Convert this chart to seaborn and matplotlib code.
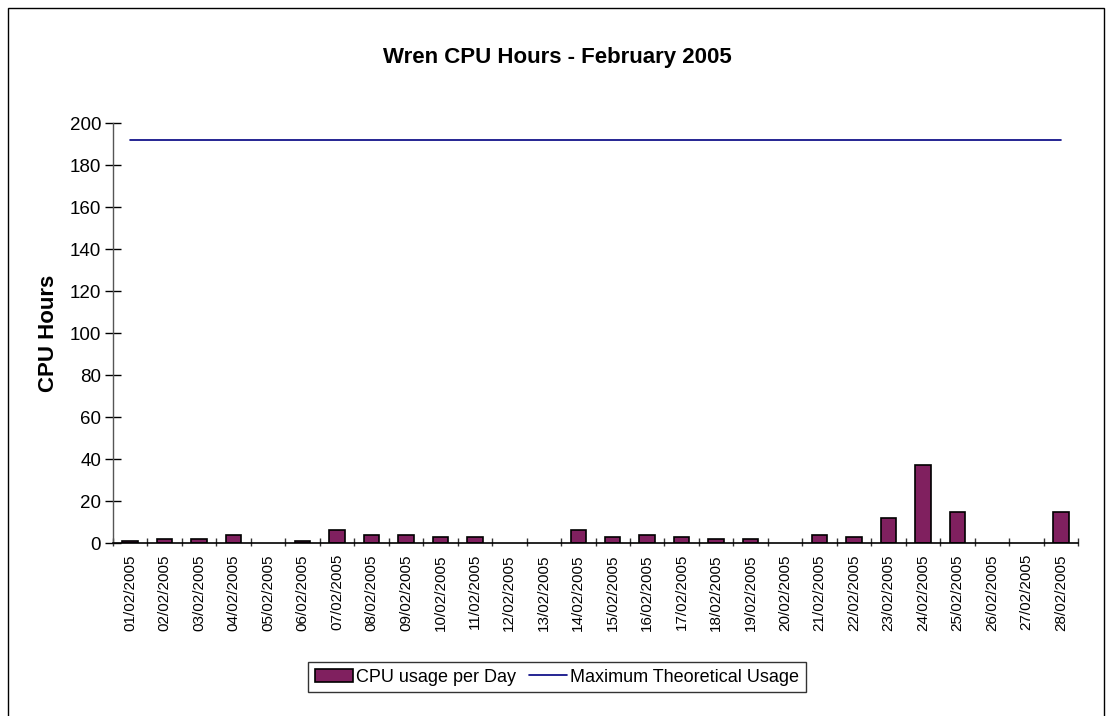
import matplotlib
matplotlib.use("Agg")
import matplotlib.pyplot as plt
import seaborn as sns
import pandas as pd
from matplotlib.patches import Rectangle

dates = [f"{d:02d}/02/2005" for d in range(1, 29)]
cpu_usage = [1, 2, 2, 4, 0, 1, 6, 4, 4, 3, 3, 0, 0, 6,
             3, 4, 3, 2, 2, 0, 4, 3, 12, 37, 15, 0, 0, 15]
max_usage = [192] * 28
y_ticks = list(range(0, 201, 20))

sns.set_theme(style="white")
plt.rcParams['font.family'] = ['Liberation Sans', 'DejaVu Sans']
plt.rcParams['text.color'] = 'black'
plt.rcParams['xtick.color'] = 'black'
plt.rcParams['ytick.color'] = 'black'
plt.rcParams['axes.labelcolor'] = 'black'

df = pd.DataFrame({"date": dates, "cpu": cpu_usage, "max": max_usage})

fig = plt.figure(figsize=(11.14, 7.16), dpi=100)
ax = fig.add_axes([113/1114, 1 - 543/716, (1078-113)/1114, (543-123)/716])

sns.barplot(data=df, x="date", y="cpu", color="#80205F", edgecolor="black",
            linewidth=1.2, width=0.45, saturation=1, ax=ax,
            label="CPU usage per Day")
# zero-height bars are not drawn in the reference
for p in ax.patches:
    if p.get_height() == 0:
        p.set_visible(False)
sns.lineplot(data=df, x="date", y="max", color="#000080", linewidth=1.2,
             ax=ax, label="Maximum Theoretical Usage")

ax.set_xlim(-0.5, len(dates) - 0.5)
ax.set_ylim(0, 200)
ax.set_yticks(y_ticks)
ax.set_yticklabels([str(t) for t in y_ticks], fontsize=13.5)
ax.set_xticks(range(len(dates)))
ax.set_xticklabels(dates, rotation=90, fontsize=11)
ax.tick_params(axis="x", bottom=False, length=0, pad=8)
for i in range(len(dates) + 1):
    ax.plot([i - 0.5, i - 0.5], [-1.6, 2.4], color="#333333", lw=1,
            clip_on=False, solid_capstyle="butt")
ax.tick_params(axis="y", left=True, direction="inout", length=11, width=1,
               color="black", pad=3)

for s in ["top", "right"]:
    ax.spines[s].set_visible(False)
ax.spines["left"].set_color("#555555")
ax.spines["bottom"].set_color("black")
ax.spines["left"].set_linewidth(1)
ax.spines["bottom"].set_linewidth(1.2)

ax.set_xlabel("")
ax.set_ylabel("CPU Hours", fontsize=16, fontweight="bold", labelpad=8)
fig.text(0.5, 1 - 57/716, "Wren CPU Hours - February 2005", ha="center",
         va="center", fontsize=16, fontweight="bold")

if ax.get_legend():
    ax.get_legend().remove()
handles, labels = ax.get_legend_handles_labels()
order = [labels.index("CPU usage per Day"), labels.index("Maximum Theoretical Usage")]
handles = [handles[i] for i in order]
labels = [labels[i] for i in order]
leg = fig.legend(handles, labels, loc="center", bbox_to_anchor=(0.5, 1 - 677/716),
                 ncol=2, frameon=True, fontsize=13, fancybox=False,
                 edgecolor="black", handlelength=2.1, handleheight=0.7,
                 columnspacing=0.7, handletextpad=0.2, borderpad=0.35)
leg.get_frame().set_linewidth(1)

fig.patches.append(Rectangle((8/1114, -0.01), (1104-8)/1114, 1 - 8/716 + 0.01,
                             transform=fig.transFigure, fill=False,
                             edgecolor="black", linewidth=1))

fig.savefig("out.png", dpi=100, facecolor="white")
